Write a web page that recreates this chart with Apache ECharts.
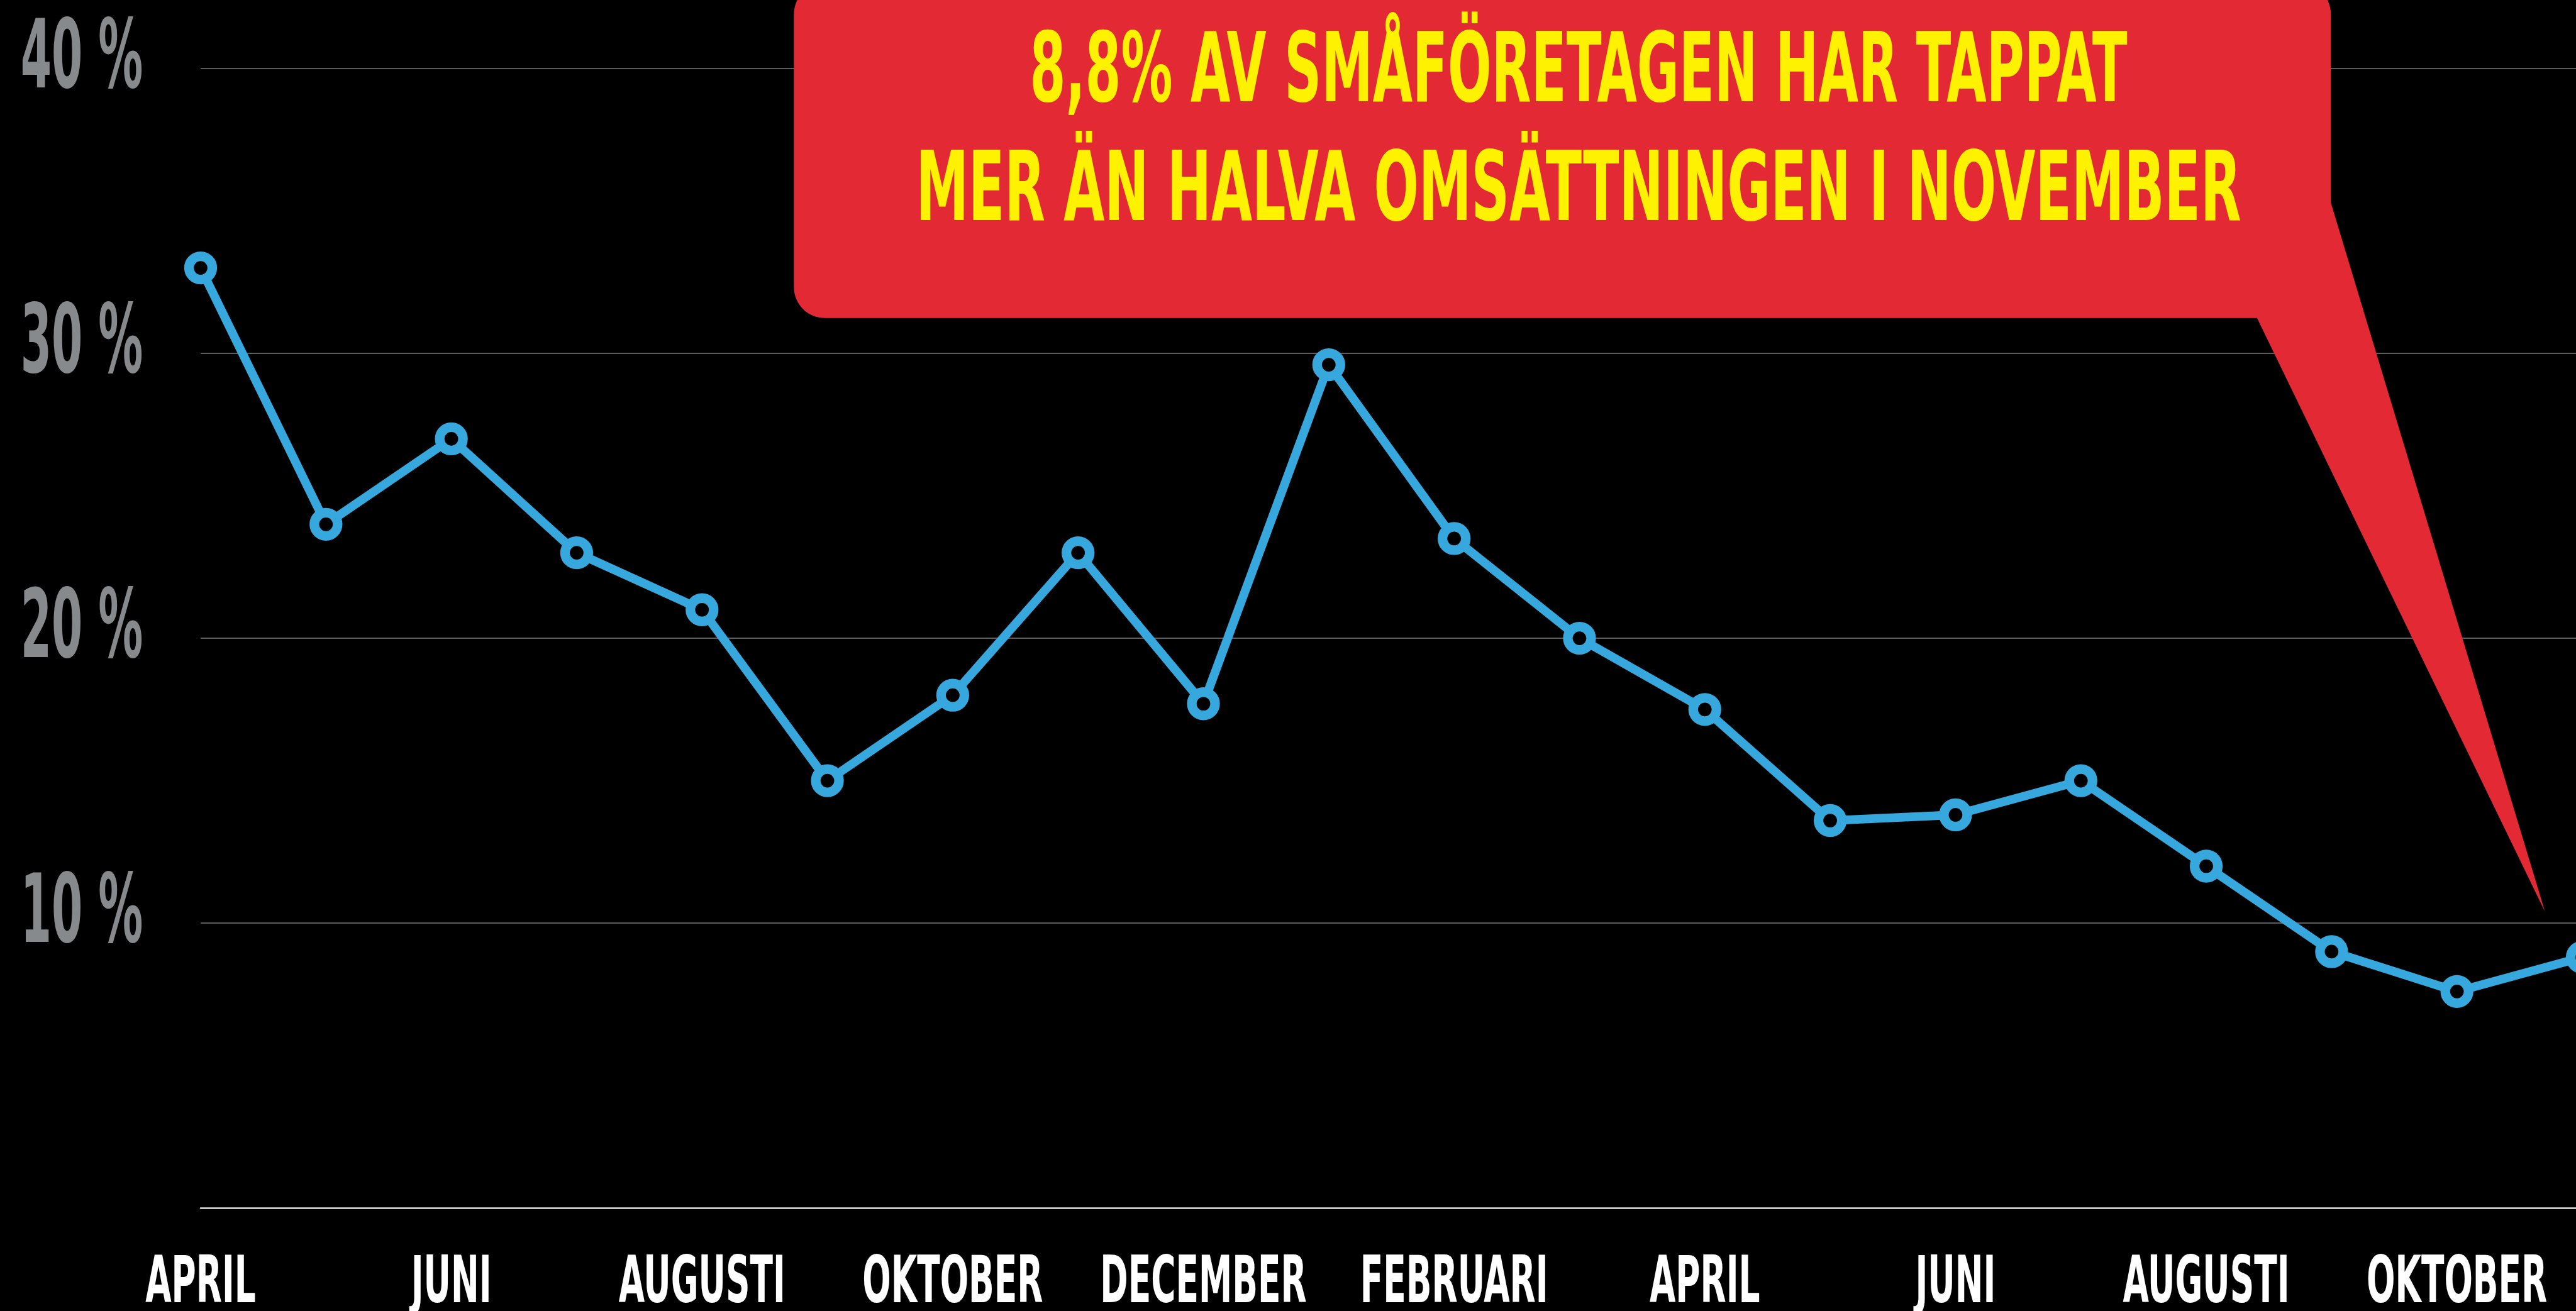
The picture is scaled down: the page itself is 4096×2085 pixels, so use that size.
<!DOCTYPE html>
<html><head><meta charset="utf-8">
<script src="https://cdn.jsdelivr.net/npm/echarts@6/dist/echarts.min.js"></script>
<style>html,body{margin:0;padding:0;background:#000;overflow:hidden}#c{width:4096px;height:2085px}</style>
</head><body><div id="c"></div>
<script>
// ---- data ----
const months = ['2020-04','2020-05','2020-06','2020-07','2020-08','2020-09','2020-10','2020-11','2020-12','2021-01',
                '2021-02','2021-03','2021-04','2021-05','2021-06','2021-07','2021-08','2021-09','2021-10','2021-11'];
const shareLostHalf = [33.0,24.0,27.0,23.0,21.0,15.0,18.0,23.0,17.7,29.6,23.5,20.0,17.5,13.6,13.8,15.0,12.0,9.0,7.6,8.8];
const xTickLabels = ['APRIL','','JUNI','','AUGUSTI','','OKTOBER','','DECEMBER','','FEBRUARI','',
                     'APRIL','','JUNI','','AUGUSTI','','OKTOBER',''];
const yTicks = [10,20,30,40];
const yTickLabels = ['10 %','20 %','30 %','40 %'];
const calloutLines = ['8,8% AV SMÅFÖRETAGEN HAR TAPPAT','MER ÄN HALVA OMSÄTTNINGEN I NOVEMBER'];

// ---- style ----
const S = 0.987;
const FAMILY = '"DejaVu Sans Condensed", "DejaVu Sans", sans-serif';
const BLUE = '#36A8DD', RED = '#E32A34', YELLOW = '#FFF200', GRAY = '#878A8C';
const TEXT_DY = 11; // baseline correction for 'middle' alignment

const mctx = document.createElement('canvas').getContext('2d');
function widthOf(text, size, weight) { mctx.font = weight + ' ' + size + 'px ' + FAMILY; return mctx.measureText(text).width; }

const X_FS = 104, Y_FS = 152, C_FS = 154;
const xScale = (291 * S) / widthOf('OKTOBER', X_FS, 'bold');
const yScale = (197 * S) / widthOf('40 %', Y_FS, 'bold');
const cTargets = [1768 * S, 2135 * S];
const cScales = calloutLines.map((t, i) => cTargets[i] / widthOf(t, C_FS, 'bold'));

const xLabelData = [], xLabelTexts = [];
xTickLabels.forEach((t, i) => { if (t) { xLabelData.push([i, 0]); xLabelTexts.push(t); } });
const yLabelData = yTicks.map(v => [0, v]);

const chart = echarts.init(document.getElementById('c'), null, { renderer: 'canvas' });
chart.setOption({
  backgroundColor: '#000',
  animation: false,
  grid: { left: 319, right: -10, top: 108.9, bottom: 163.8, containLabel: false, outerBoundsMode: 'none' },
  xAxis: {
    type: 'category', data: months, boundaryGap: false,
    axisLine: { show: true, lineStyle: { color: '#e8e8e8', width: 2.5 } },
    axisTick: { show: false }, axisLabel: { show: false }, splitLine: { show: false }
  },
  yAxis: {
    type: 'value', min: 0, max: 40, interval: 10,
    axisLine: { show: false }, axisTick: { show: false }, axisLabel: { show: false },
    splitLine: { show: true, showMinLine: false, lineStyle: { color: '#5c5c5c', width: 2 } }
  },
  graphic: [
    { type: 'rect', z: 50, shape: { x: 1262.4, y: -26.6, width: 3706.2 - 1262.4, height: 505.8 + 26.6, r: 49 },
      style: { fill: RED } },
    { type: 'polygon', z: 50, shape: { points: [[3560, 480], [3588.7, 505.6], [4046.7, 1449.9], [3706.6, 323.7], [3690, 300]] },
      style: { fill: RED } },
    { type: 'text', z: 51, x: 2510, y: 111 * S + TEXT_DY, scaleX: cScales[0],
      style: { text: calloutLines[0], fill: YELLOW, fontSize: C_FS, fontWeight: 'bold', fontFamily: FAMILY, align: 'center', verticalAlign: 'middle' } },
    { type: 'text', z: 51, x: 2510, y: 302.5 * S + TEXT_DY, scaleX: cScales[1],
      style: { text: calloutLines[1], fill: YELLOW, fontSize: C_FS, fontWeight: 'bold', fontFamily: FAMILY, align: 'center', verticalAlign: 'middle' } }
  ],
  series: [
    {
      type: 'line', data: shareLostHalf, z: 3, clip: false, silent: true,
      symbol: 'circle', symbolSize: 37, showAllSymbol: true,
      lineStyle: { color: BLUE, width: 13.8 },
      itemStyle: { color: '#000', borderColor: BLUE, borderWidth: 15.3 },
      emphasis: { disabled: true }
    },
    {
      type: 'custom', coordinateSystem: 'cartesian2d', clip: false, silent: true, z: 5,
      data: xLabelData,
      renderItem: function (params, api) {
        const p = api.coord([api.value(0), 0]);
        return { type: 'text', x: p[0], y: p[1] + 115.5 + TEXT_DY * 0.7, scaleX: xScale,
          style: { text: xLabelTexts[params.dataIndex], fill: '#fff', fontSize: X_FS, fontWeight: 'bold', fontFamily: FAMILY, align: 'center', verticalAlign: 'middle' } };
      }
    },
    {
      type: 'custom', coordinateSystem: 'cartesian2d', clip: false, silent: true, z: 5,
      data: yLabelData,
      renderItem: function (params, api) {
        const p = api.coord([0, api.value(1)]);
        return { type: 'text', x: p[0] - 91.8, y: p[1] - 20.3 + TEXT_DY, scaleX: yScale,
          style: { text: yTickLabels[params.dataIndex], fill: GRAY, fontSize: Y_FS, fontWeight: 'bold', fontFamily: FAMILY, align: 'right', verticalAlign: 'middle' } };
      }
    }
  ]
});
</script></body></html>
